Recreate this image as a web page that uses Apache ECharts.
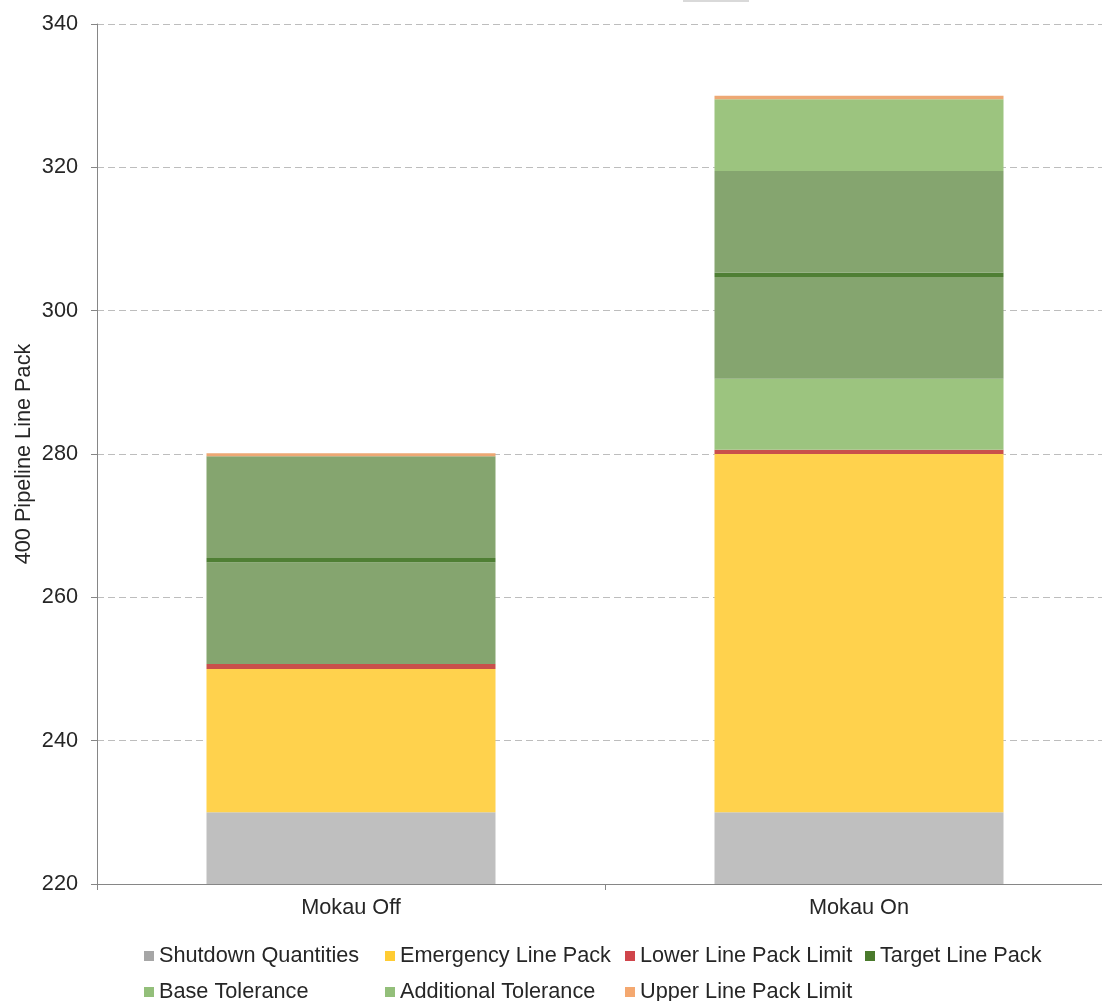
<!DOCTYPE html>
<html>
<head>
<meta charset="utf-8">
<script src="https://cdn.jsdelivr.net/npm/echarts@6/dist/echarts.min.js"></script>
<style>
html,body{margin:0;padding:0;background:#fff;overflow:hidden;}
#chart{width:1113px;height:1001px;}
</style>
</head>
<body>
<div id="chart"></div>
<script>
const categories = ['Mokau Off', 'Mokau On'];
// stacked segment sizes (bottom to top)
const shutdownQuantities = [230, 230];
const emergencyLinePack = [20, 50];
const lowerLinePackLimit = [0.7, 0.6];
const additionalToleranceBelow = [0, 9.9];
const baseToleranceBelow = [14.2, 14.2];
const targetLinePack = [0.6, 0.6];
const baseToleranceAbove = [14.2, 14.2];
const additionalToleranceAbove = [0, 10];
const upperLinePackLimit = [0.4, 0.5];
const yMin = 220, yMax = 340, yStep = 20;
const yAxisTitle = '400 Pipeline Line Pack';

const FONT = '"Liberation Sans", Arial, sans-serif';
const TXT = '#262626';
const FS = 21.7;

const C = {
  shutdown: '#bfbfbf', shutdownIcon: '#a6a6a6',
  emergency: '#ffd24d', emergencyIcon: '#ffcc33',
  lower: '#c9504b', lowerIcon: '#d0454b',
  target: '#4f7f34', targetIcon: '#4a7a2c',
  base: '#85a56f', baseIcon: '#93bf7a',
  additional: '#9cc47f', additionalIcon: '#93bf7a',
  upper: '#eda874', upperIcon: '#f4a870'
};

function bar(name, data, color) {
  return {
    name: name, type: 'bar', stack: 'total', data: data, barWidth: 289,
    itemStyle: { color: color, borderWidth: 0 },
    emphasis: { disabled: true }
  };
}

function legendItem(left, top, name, iconColor) {
  return {
    orient: 'horizontal', left: left, top: top, padding: 0,
    itemWidth: 10, itemHeight: 10, itemTextGap: 5, icon: 'rect',
    textStyle: { fontSize: FS, lineHeight: 22, color: TXT, fontFamily: FONT },
    data: [{ name: name, itemStyle: { color: iconColor } }]
  };
}

const ROW1 = 945, ROW2 = 981;

const chart = echarts.init(document.getElementById('chart'), null, { renderer: 'canvas' });
chart.setOption({
  animation: false,
  backgroundColor: '#ffffff',
  textStyle: { fontFamily: FONT },
  grid: { left: 97, right: 0, top: 24, bottom: 117, containLabel: false },
  graphic: [{ type: 'rect', shape: { x: 683, y: 0, width: 66, height: 2 }, style: { fill: '#d9d9d9' }, silent: true }],
  legend: [
    legendItem(144, ROW1, 'Shutdown Quantities', C.shutdownIcon),
    legendItem(385, ROW1, 'Emergency Line Pack', C.emergencyIcon),
    legendItem(625, ROW1, 'Lower Line Pack Limit', C.lowerIcon),
    legendItem(865, ROW1, 'Target Line Pack', C.targetIcon),
    legendItem(144, ROW2, 'Base Tolerance', C.baseIcon),
    legendItem(385, ROW2, 'Additional Tolerance', C.additionalIcon),
    legendItem(625, ROW2, 'Upper Line Pack Limit', C.upperIcon)
  ],
  xAxis: {
    type: 'category', data: categories, boundaryGap: true,
    axisLine: { show: true, lineStyle: { color: '#868686', width: 1 } },
    axisTick: { show: true, length: 6, alignWithLabel: false, lineStyle: { color: '#868686' } },
    axisLabel: { show: true, margin: 13, fontSize: FS, color: TXT, fontFamily: FONT },
    splitLine: { show: false }
  },
  yAxis: {
    type: 'value', min: yMin, max: yMax, interval: yStep,
    name: yAxisTitle, nameLocation: 'middle', nameRotate: 90, nameGap: 62,
    nameMoveOverlap: false,
    nameTextStyle: { fontSize: FS, color: TXT, fontFamily: FONT },
    axisLine: { show: true, lineStyle: { color: '#868686', width: 1 } },
    axisTick: { show: true, length: 6, lineStyle: { color: '#868686' } },
    axisLabel: { show: true, margin: 19, fontSize: FS, color: TXT, fontFamily: FONT },
    splitLine: { show: true, lineStyle: { color: '#bdbdbd', width: 1, type: [7, 4] } }
  },
  series: [
    bar('Shutdown Quantities', shutdownQuantities, C.shutdown),
    bar('Emergency Line Pack', emergencyLinePack, C.emergency),
    bar('Lower Line Pack Limit', lowerLinePackLimit, C.lower),
    bar('Additional Tolerance', additionalToleranceBelow, C.additional),
    bar('Base Tolerance', baseToleranceBelow, C.base),
    bar('Target Line Pack', targetLinePack, C.target),
    bar('Base Tolerance', baseToleranceAbove, C.base),
    bar('Additional Tolerance', additionalToleranceAbove, C.additional),
    bar('Upper Line Pack Limit', upperLinePackLimit, C.upper)
  ]
});
</script>
</body>
</html>
